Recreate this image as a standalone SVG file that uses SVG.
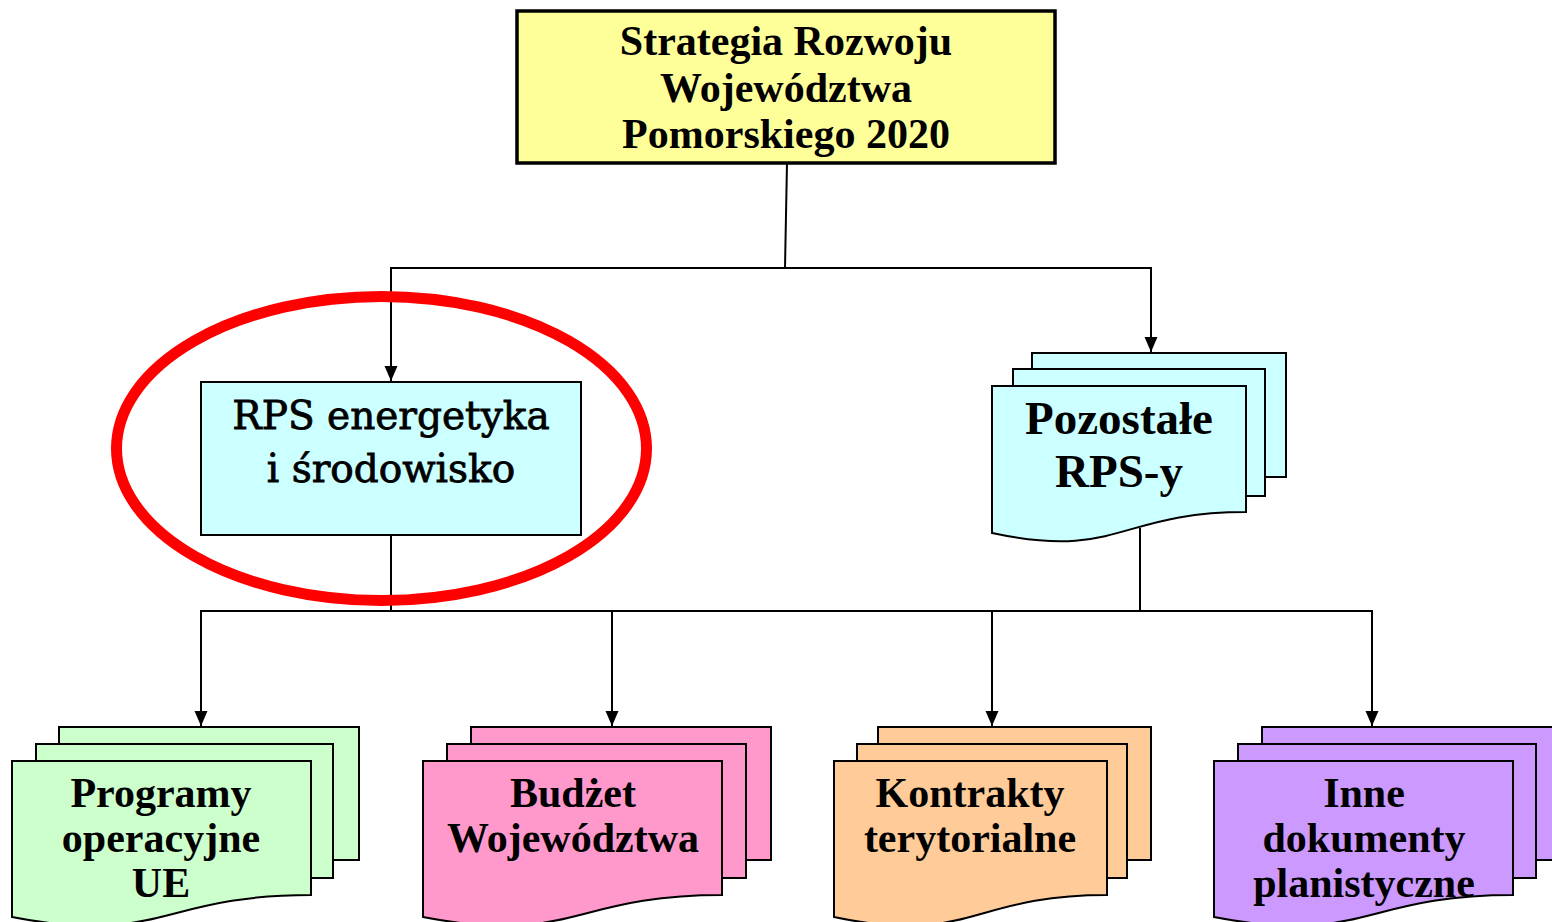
<svg xmlns="http://www.w3.org/2000/svg" width="1552" height="922" viewBox="0 0 1552 922">
<style>
.b{font-family:"Liberation Serif","Times New Roman",serif;font-weight:bold;fill:#000;text-anchor:middle}
.r{font-family:"DejaVu Serif","Liberation Serif",serif;fill:#000;stroke:#000;stroke-width:0.8;text-anchor:middle}
.s{stroke:#000;stroke-width:2}
.ln{fill:none;stroke:#000;stroke-width:2}
</style>
<defs>
<marker id="ah" viewBox="0 0 15 14" refX="15" refY="7" markerWidth="15" markerHeight="14" markerUnits="userSpaceOnUse" orient="auto">
<path d="M0,0.5 L15,7 L0,13.5 Z" fill="#000"/>
</marker>
</defs>
<rect width="1552" height="922" fill="#fff"/>
<g id="connectors">
<line class="ln" x1="787" y1="163" x2="785" y2="268"/>
<line class="ln" x1="390" y1="268" x2="1152" y2="268"/>
<line class="ln" x1="391" y1="268" x2="391" y2="381" marker-end="url(#ah)"/>
<line class="ln" x1="1151" y1="268" x2="1151" y2="352" marker-end="url(#ah)"/>
<line class="ln" x1="391" y1="535" x2="391" y2="611"/>
<line class="ln" x1="1140" y1="528" x2="1140" y2="611"/>
<line class="ln" x1="200" y1="611" x2="1373" y2="611"/>
<line class="ln" x1="201" y1="611" x2="201" y2="726" marker-end="url(#ah)"/>
<line class="ln" x1="612" y1="611" x2="612" y2="726" marker-end="url(#ah)"/>
<line class="ln" x1="992" y1="611" x2="992" y2="726" marker-end="url(#ah)"/>
<line class="ln" x1="1372" y1="611" x2="1372" y2="726" marker-end="url(#ah)"/>
</g>
<g id="strategia">
<rect x="517" y="11" width="538" height="152" fill="#FFFF99" stroke="#000" stroke-width="3.5"/>
<text class="b" font-size="42" x="786" y="55">Strategia Rozwoju</text>
<text class="b" font-size="42" x="786" y="102">Województwa</text>
<text class="b" font-size="42" x="786" y="148">Pomorskiego 2020</text>
</g>
<g id="rps-energetyka">
<rect x="201" y="382" width="380" height="153" fill="#CCFFFF" class="s"/>
<text class="r" font-size="39" x="391" y="429">RPS energetyka</text>
<text class="r" font-size="39" x="391" y="482">i środowisko</text>
</g>
<g id="pozostale">
<rect x="1032" y="353" width="254" height="124" fill="#CCFFFF" class="s"/>
<rect x="1013" y="369" width="252" height="127" fill="#CCFFFF" class="s"/>
<path d="M992,386 H1246 V512 C1119,512 1119,560 992,533 Z" fill="#CCFFFF" class="s"/>
<text class="b" font-size="47" x="1119" y="434">Pozostałe</text>
<text class="b" font-size="47" x="1119" y="487">RPS-y</text>
</g>
<g id="programy">
<rect x="59" y="727" width="300" height="133" fill="#CCFFCC" class="s"/>
<rect x="36" y="744" width="297" height="134" fill="#CCFFCC" class="s"/>
<path d="M12,761 H311 V895 C161,895 161,946 12,917 Z" fill="#CCFFCC" class="s"/>
<text class="b" font-size="42" x="161" y="807">Programy</text>
<text class="b" font-size="42" x="161" y="852">operacyjne</text>
<text class="b" font-size="42" x="161" y="897">UE</text>
</g>
<g id="budzet">
<rect x="471" y="727" width="300" height="133" fill="#FF99CC" class="s"/>
<rect x="447" y="744" width="299" height="134" fill="#FF99CC" class="s"/>
<path d="M423,761 H722 V895 C572,895 572,946 423,917 Z" fill="#FF99CC" class="s"/>
<text class="b" font-size="42" x="573" y="807">Budżet</text>
<text class="b" font-size="42" x="573" y="852">Województwa</text>
</g>
<g id="kontrakty">
<rect x="878" y="727" width="273" height="133" fill="#FFCC99" class="s"/>
<rect x="857" y="744" width="270" height="134" fill="#FFCC99" class="s"/>
<path d="M834,761 H1107 V895 C970,895 970,946 834,917 Z" fill="#FFCC99" class="s"/>
<text class="b" font-size="42" x="970" y="807">Kontrakty</text>
<text class="b" font-size="42" x="970" y="852">terytorialne</text>
</g>
<g id="inne">
<rect x="1262" y="727" width="300" height="133" fill="#CC99FF" class="s"/>
<rect x="1238" y="744" width="298" height="134" fill="#CC99FF" class="s"/>
<path d="M1214,761 H1513 V895 C1363,895 1363,946 1214,917 Z" fill="#CC99FF" class="s"/>
<text class="b" font-size="42" x="1364" y="807">Inne</text>
<text class="b" font-size="42" x="1364" y="852">dokumenty</text>
<text class="b" font-size="42" x="1364" y="897">planistyczne</text>
</g>
<g id="highlight">
<ellipse cx="381.5" cy="448.5" rx="265" ry="152" fill="none" stroke="#FF0000" stroke-width="11"/>
</g>
</svg>
